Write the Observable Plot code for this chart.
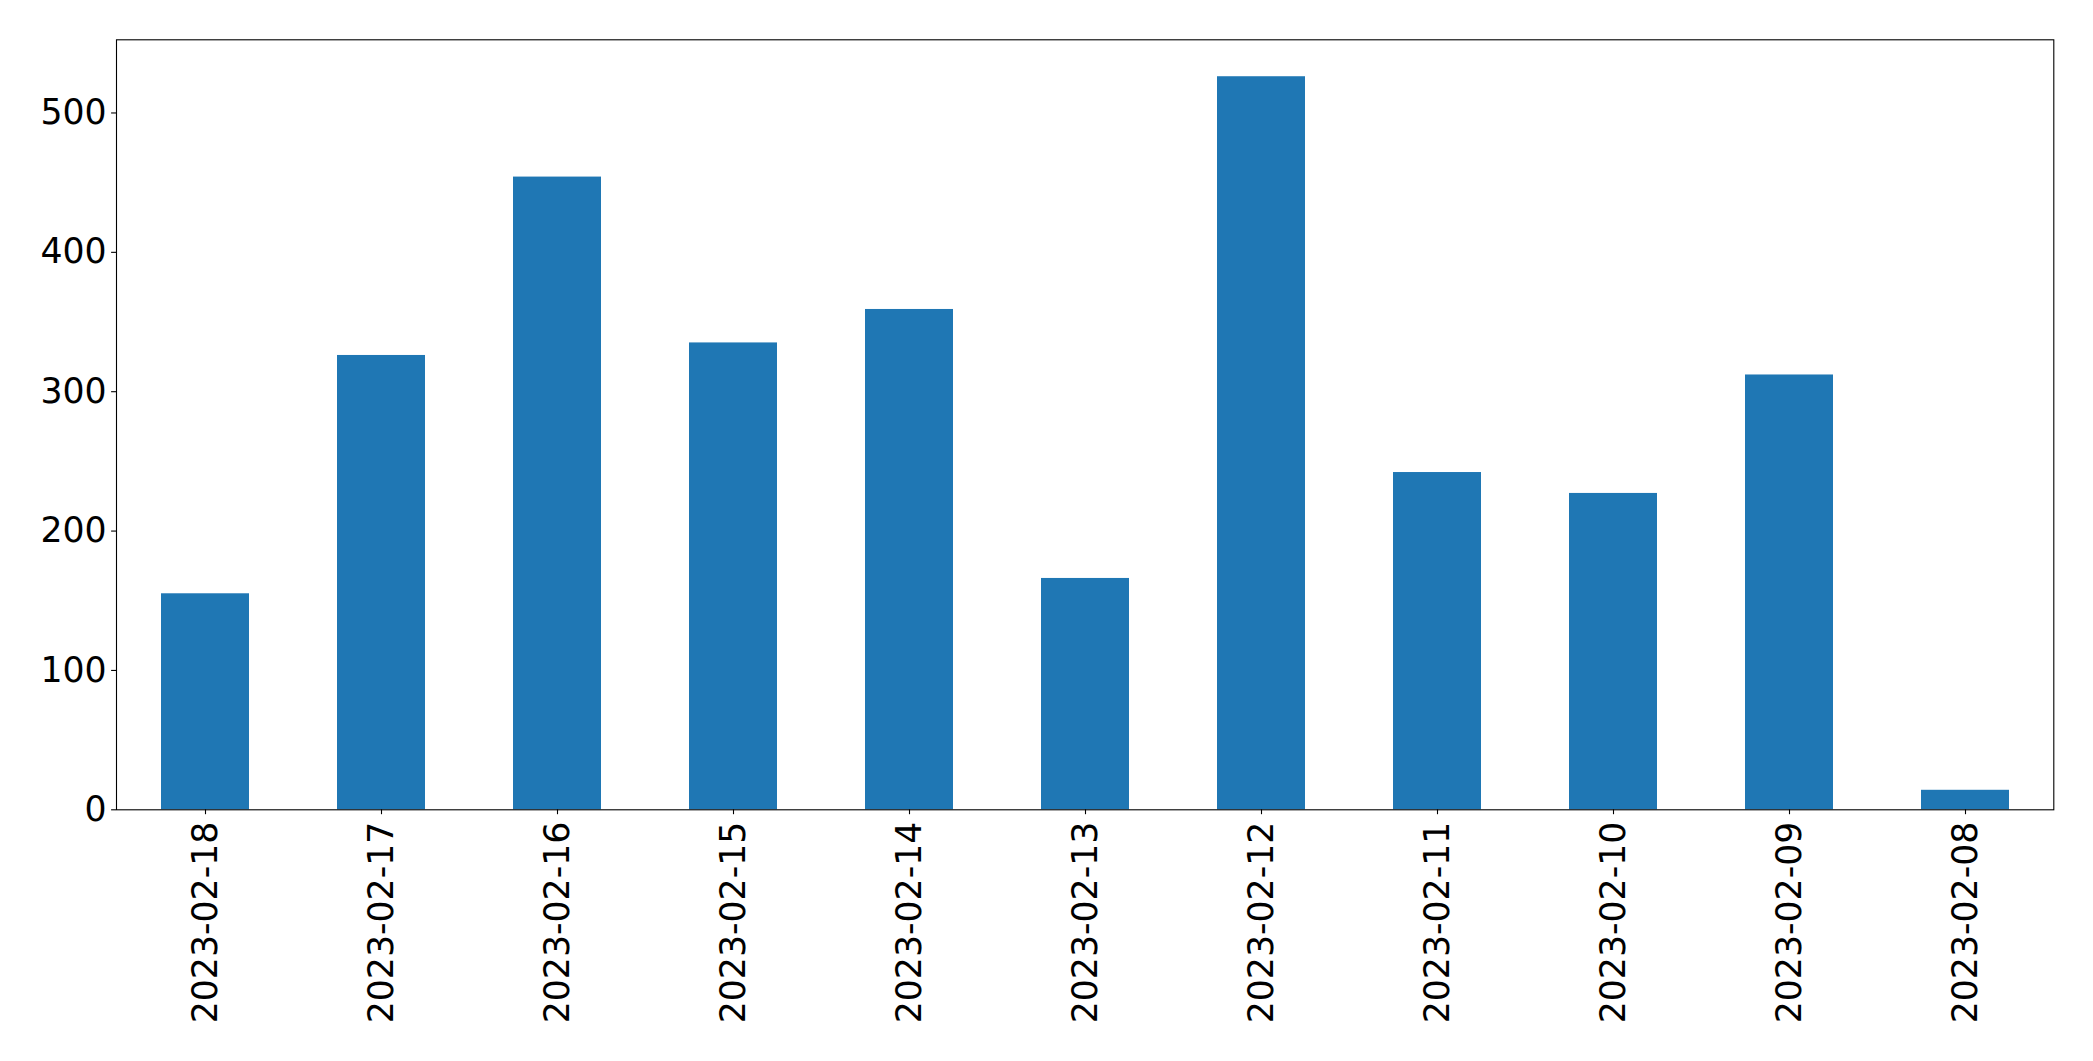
<!DOCTYPE html>
<html>
<head>
<meta charset="utf-8">
<script src="https://cdn.jsdelivr.net/npm/d3@7"></script>
<script src="https://cdn.jsdelivr.net/npm/@observablehq/plot@0.6"></script>
<style>
  html, body { margin: 0; padding: 0; background: #fff; }
  #chart { width: 2093px; height: 1061px; }
</style>
</head>
<body>
<div id="chart"></div>
<script>
const dates = ["2023-02-18","2023-02-17","2023-02-16","2023-02-15","2023-02-14","2023-02-13","2023-02-12","2023-02-11","2023-02-10","2023-02-09","2023-02-08"];
const counts = [155, 326, 454, 335, 359, 166, 526, 242, 227, 312, 14];
const yTicks = [0, 100, 200, 300, 400, 500];

const data = dates.map((d, i) => ({date: d, count: counts[i]}));
const font = "DejaVu Sans";
const fs = 34.7;

const chart = Plot.plot({
  width: 2093,
  height: 1061,
  marginLeft: 116,
  marginRight: 39.7,
  marginTop: 39.3,
  marginBottom: 251.7,
  style: {fontFamily: font, background: "#fff", color: "#000"},
  x: {domain: dates, paddingInner: 0.5, paddingOuter: 0.25, axis: null},
  y: {domain: [0, 552.5], axis: null},
  marks: [
    Plot.barY(data, {x: "date", y: "count", fill: "#1f77b4"}),
    Plot.axisY({ticks: yTicks, tickSize: 4.9, tickPadding: 5, fontSize: fs, tickFormat: d => String(d), stroke: "#000", strokeWidth: 1.1, label: null, fill: "#000"}),
    Plot.axisX({tickRotate: -90, tickSize: 4.9, tickPadding: 7, fontSize: fs, stroke: "#000", strokeWidth: 1.1, label: null, fill: "#000"}),
    Plot.frame({stroke: "#000", strokeWidth: 1.1})
  ]
});
document.getElementById("chart").appendChild(chart);
</script>
</body>
</html>
